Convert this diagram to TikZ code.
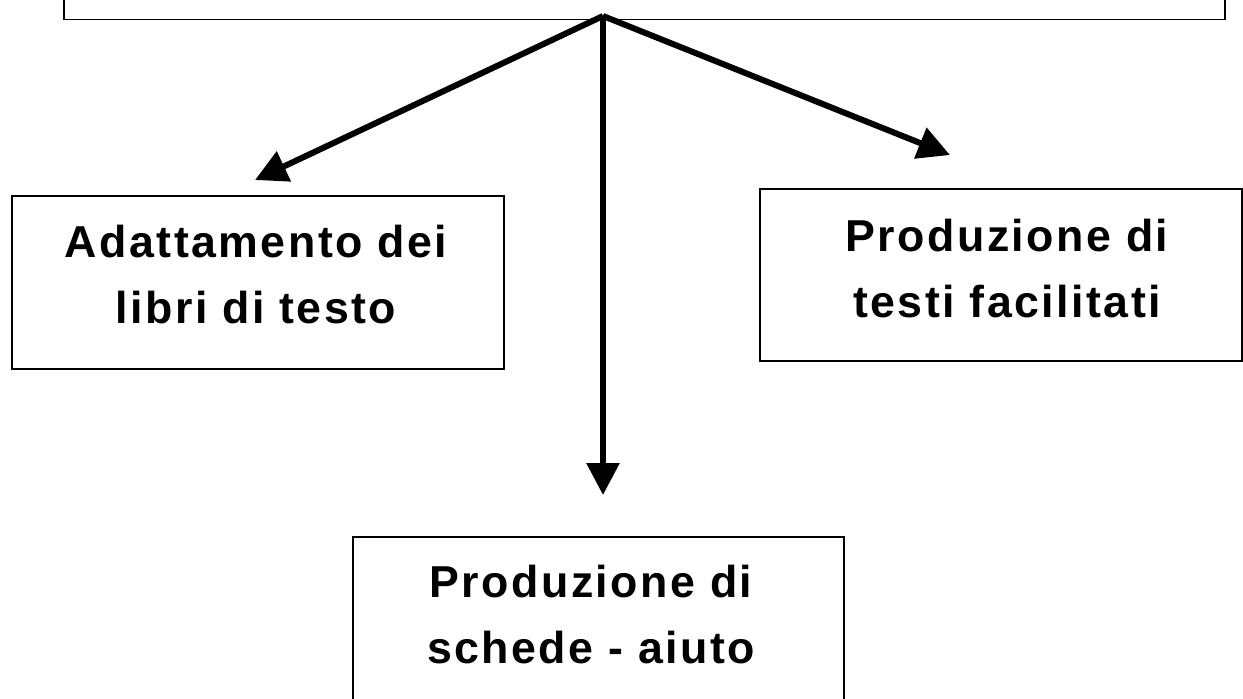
\documentclass[tikz,border=0pt]{standalone}
\usepackage{fontspec}
\setmainfont{Liberation Sans}[LetterSpace=5.5]
\usetikzlibrary{arrows.meta}
\tikzset{
  boxnode/.style={draw=black, line width=1.5pt, rectangle, inner sep=0pt, anchor=north west},
  lbl/.style={align=center, inner sep=0pt, anchor=base, font=\fontsize{44.7}{66}\selectfont\bfseries},
  arr/.style={line width=6pt, -{Triangle[length=32pt,width=32pt]}}
}
\begin{document}
\begin{tikzpicture}[x=1pt,y=-1pt]
\useasboundingbox (0,0) rectangle (1243,699);
% top box
\node (topbox) [boxnode, minimum width=1161pt, minimum height=60pt, anchor=south west] at (63,20) {};
% boxes
\node (leftbox) [boxnode, minimum width=492pt, minimum height=173pt] at (11,195) {};
\node (rightbox) [boxnode, minimum width=482pt, minimum height=172pt] at (759,188) {};
\node (bottombox) [boxnode, minimum width=491pt, minimum height=200pt] at (352,536) {};
% texts (base anchor = baseline of the last line)
\node (lefttext) [lbl] at (256,323) {Adattamento dei\\libri di testo};
\node (righttext) [lbl] at (1007,317) {Produzione di\\testi facilitati};
\node (bottomtext) [lbl] at (591,663) {Produzione di\\schede - aiuto};
% connectors
\coordinate (hub) at (603,16);
\coordinate (tipL) at (255,180);
\coordinate (tipR) at (950,155);
\coordinate (tipD) at (603,495);
\draw[arr] (hub) -- (tipL);
\draw[arr] (hub) -- (tipR);
\draw[arr] (hub) -- (tipD);
\end{tikzpicture}
\end{document}
